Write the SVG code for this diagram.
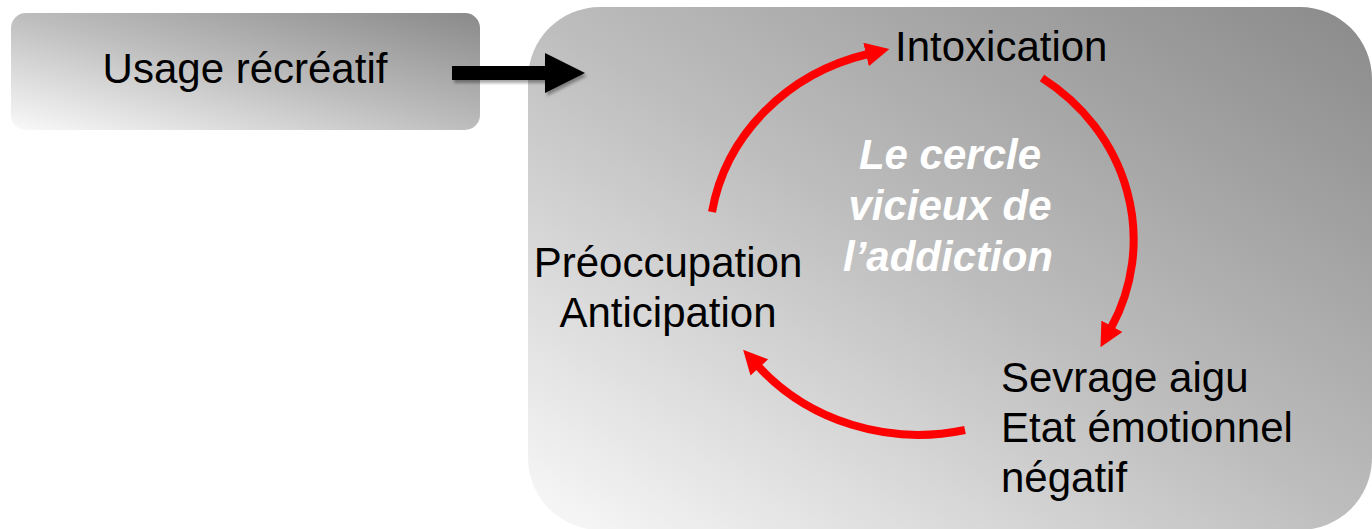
<svg xmlns="http://www.w3.org/2000/svg" width="1372" height="529" viewBox="0 0 1372 529">
<style>
.t{font-family:"Liberation Sans",Arial,sans-serif;font-size:42px;fill:#000}
.c{font-family:"Liberation Sans",Arial,sans-serif;font-size:42px;font-weight:bold;font-style:italic;fill:#fff;text-anchor:middle}
.red{fill:none;stroke:#ff0000;stroke-width:8}
</style>
<defs>
<linearGradient id="g" x1="0" y1="1" x2="1" y2="0">
<stop offset="0" stop-color="#f9f9f9"/>
<stop offset="0.5" stop-color="#bdbdbd"/>
<stop offset="1" stop-color="#8a8a8a"/>
</linearGradient>
<marker id="ah" markerUnits="userSpaceOnUse" markerWidth="26" markerHeight="26" refX="2" refY="12" orient="auto">
<path d="M0,0 L24,12 L0,24 z" fill="#ff0000"/>
</marker>
<filter id="sh" x="-10%" y="-20%" width="130%" height="160%">
<feDropShadow dx="2" dy="3" stdDeviation="1.5" flood-color="#000" flood-opacity="0.35"/>
</filter>
</defs>
<g id="cycle-box">
<rect x="528" y="7" width="844" height="523" rx="72" ry="72" fill="url(#g)"/>
</g>
<g id="usage">
<rect x="11" y="13" width="469" height="117" rx="15" ry="15" fill="url(#g)"/>
<text class="t" x="245" y="83" text-anchor="middle">Usage récréatif</text>
</g>
<g id="intoxication">
<text class="t" x="895" y="61">Intoxication</text>
</g>
<g id="preoccupation">
<text class="t" x="668" y="277" text-anchor="middle">Préoccupation</text>
<text class="t" x="668" y="327" text-anchor="middle">Anticipation</text>
</g>
<g id="sevrage">
<text class="t" x="1001" y="392">Sevrage aigu</text>
<text class="t" x="1001" y="442">Etat émotionnel</text>
<text class="t" x="1001" y="492">négatif</text>
</g>
<g id="center-label">
<text class="c" x="950" y="169">Le cercle</text>
<text class="c" x="950" y="220">vicieux de</text>
<text class="c" x="948" y="271">l’addiction</text>
</g>
<g id="connectors">
<polygon points="452,66 545,66 545,53 585,73 545,93 545,80 452,80" fill="#000" filter="url(#sh)"/>
<path class="red" d="M712,212 A211,196 0 0,1 868,54" marker-end="url(#ah)"/>
<path class="red" d="M1042,78 A211,196 0 0,1 1111,328" marker-end="url(#ah)"/>
<path class="red" d="M965,430 A211,196 0 0,1 758,366" marker-end="url(#ah)"/>
</g>
</svg>
